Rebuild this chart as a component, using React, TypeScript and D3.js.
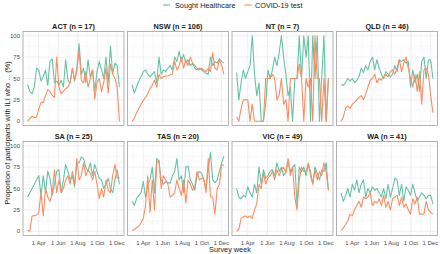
import React from "react";
import * as d3 from "d3";

const regions = ["ACT (n = 17)", "NSW (n = 106)", "NT (n = 7)", "QLD (n = 46)", "SA (n = 25)", "TAS (n = 20)", "VIC (n = 49)", "WA (n = 41)"];
const seriesNames = ["Sought Healthcare", "COVID-19 test"];
const seriesColors = ["#66C2A5", "#FC8D62"];
const yTicks = [0, 25, 50, 75, 100];
const xTickLabels = ["1 Apr", "1 Jun", "1 Aug", "1 Oct", "1 Dec"];
const xTickDates = ["2020-04-01", "2020-06-01", "2020-08-01", "2020-10-01", "2020-12-01"];
const xMinorDates = ["2020-03-01", "2020-05-01", "2020-07-01", "2020-09-01", "2020-11-01"];
const firstWeek = "2020-02-26";

const soughtACT = [43,35,32,40,62,60,47,52,60,42,70,73,45,47,42,48,40,72,48,45,62,47,62,91,55,62,45,72,52,60,35,58,70,60,50,75,45,88,55,68,65,40];
const testACT = [0,3,6,4,5,14,22,22,30,37,35,30,28,75,40,32,35,38,40,45,62,48,58,83,48,45,58,40,50,60,26,45,50,35,45,62,33,67,55,50,40,0];
const soughtNSW = [43,33,40,47,52,58,60,55,52,55,58,45,75,55,60,58,62,65,60,75,70,82,70,78,68,72,65,68,62,60,62,60,58,56,55,75,65,70,68,73,70,68];
const testNSW = [0,3,10,15,20,24,28,32,38,42,48,40,55,50,52,53,53,54,55,70,60,65,75,62,72,65,75,68,65,62,60,62,60,58,62,58,80,62,60,72,65,55];
const soughtNT = [57,25,45,60,50,58,65,100,55,30,45,0,0,20,60,50,60,75,65,80,100,75,55,30,40,0,50,50,100,50,100,75,100,0,100,50,100,0,50,100,0,50];
const testNT = [5,0,15,25,25,25,0,20,0,0,0,0,0,50,50,50,55,50,25,30,50,20,25,0,50,50,50,50,67,50,0,50,40,50,0,100,50,50,0,50,0,50];
const soughtQLD = [43,42,45,50,47,50,45,48,52,62,57,65,60,70,75,60,72,62,55,50,58,55,52,55,65,58,72,70,72,68,70,40,60,45,55,35,70,75,50,72,72,50];
const testQLD = [0,5,15,18,15,20,22,25,28,30,25,32,40,48,50,55,45,50,48,52,55,52,58,60,55,62,72,58,68,75,62,50,40,55,35,58,20,60,62,55,30,10];
const soughtSA = [40,45,50,55,60,65,42,65,45,70,62,42,55,70,72,45,60,78,70,60,65,52,80,80,87,85,75,70,80,65,78,70,62,60,50,55,62,50,45,60,72,55];
const testSA = [1,0,18,18,19,22,45,18,50,40,35,45,72,45,60,45,50,60,65,55,70,55,85,60,65,80,65,72,68,60,70,55,38,50,40,60,48,45,65,78,62,63];
const soughtTAS = [35,30,38,42,45,58,40,55,60,75,45,85,82,60,55,58,57,56,65,70,85,60,65,45,75,76,60,55,48,65,70,68,60,50,72,92,60,57,60,70,80,88];
const testTAS = [1,2,4,6,10,15,30,65,22,60,25,80,83,50,65,60,55,40,42,45,60,50,42,60,33,60,55,48,52,70,60,62,62,45,85,40,40,20,50,55,78,77];
const soughtVIC = [50,40,38,42,40,52,45,40,55,45,75,55,72,62,65,70,72,65,80,70,75,65,70,82,70,75,78,30,75,70,75,65,78,70,55,75,68,60,72,70,80,48];
const testVIC = [0,2,15,17,18,16,18,15,25,32,55,50,68,55,62,65,70,60,72,65,72,75,68,85,65,75,40,25,60,75,70,70,80,65,55,72,60,70,65,80,70,48];
const soughtWA = [45,35,42,50,40,55,48,60,45,55,60,40,50,45,52,48,50,45,40,50,38,55,40,50,62,60,42,55,35,52,48,42,55,45,35,40,45,42,38,42,42,32];
const testWA = [1,4,8,12,20,18,25,30,35,28,40,38,40,45,30,35,33,38,30,42,28,35,25,38,40,42,30,40,28,32,25,20,38,32,40,20,20,20,35,25,22,20];

const soughtAll = [soughtACT, soughtNSW, soughtNT, soughtQLD, soughtSA, soughtTAS, soughtVIC, soughtWA];
const testAll = [testACT, testNSW, testNT, testQLD, testSA, testTAS, testVIC, testWA];

const FONT = "'Liberation Sans', Arial, sans-serif";

export default function App() {
  const W = 440, H = 254;
  const left0 = 23, pw = 101, gap = 3.5;
  const tops = [31.5, 141.5], ph = 94;

  const parse = d3.utcParse("%Y-%m-%d");
  const start = parse(firstWeek) as Date;
  const nWeeks = soughtACT.length;
  const dates = d3.range(nWeeks).map((i) => d3.utcDay.offset(start, i * 7));
  const d0 = +dates[0], d1 = +dates[nWeeks - 1];
  const pad = (d1 - d0) * 0.05;
  const x = d3.scaleUtc().domain([new Date(d0 - pad), new Date(d1 + pad)]).range([0, pw]);
  const y = d3.scaleLinear().domain([-5, 105]).range([ph, 0]);
  const yMinor = [12.5, 37.5, 62.5, 87.5];
  const line = d3.line<number>().x((_, i) => x(dates[i])).y((v) => y(v));

  return (
    <svg width={W} height={H} style={{ display: "block", position: "absolute", left: 0, top: 0 }} fontFamily={FONT}>
      <rect width={W} height={H} fill="#fff" />
      <g>
        <line x1={163} x2={170} y1={5} y2={5} stroke={seriesColors[0]} strokeWidth={1.1} />
        <text x={175} y={7.5} fontSize={7.3} fill="#1a1a1a">{seriesNames[0]}</text>
        <line x1={244.5} x2={251.5} y1={5} y2={5} stroke={seriesColors[1]} strokeWidth={1.1} />
        <text x={255} y={7.5} fontSize={7.3} fill="#1a1a1a">{seriesNames[1]}</text>
      </g>
      {regions.map((name, k) => {
        const col = k % 4, row = Math.floor(k / 4);
        const px = left0 + col * (pw + gap);
        const py = tops[row];
        return (
          <g key={name} transform={`translate(${px},${py})`}>
            <text x={pw / 2} y={-3} textAnchor="middle" fontSize={7.3} fontWeight="bold" fill="#1a1a1a">{name}</text>
            {xMinorDates.map((d) => (
              <line key={d} x1={x(parse(d) as Date)} x2={x(parse(d) as Date)} y1={0} y2={ph} stroke="#f2f2f2" strokeWidth={0.5} />
            ))}
            {yMinor.map((v) => (
              <line key={v} x1={0} x2={pw} y1={y(v)} y2={y(v)} stroke="#f2f2f2" strokeWidth={0.5} />
            ))}
            {xTickDates.map((d) => (
              <line key={d} x1={x(parse(d) as Date)} x2={x(parse(d) as Date)} y1={0} y2={ph} stroke="#e6e6e6" strokeWidth={0.7} />
            ))}
            {yTicks.map((v) => (
              <line key={v} x1={0} x2={pw} y1={y(v)} y2={y(v)} stroke="#e6e6e6" strokeWidth={0.7} />
            ))}
            <path d={line(soughtAll[k]) || ""} fill="none" stroke={seriesColors[0]} strokeWidth={1.1} strokeLinejoin="round" />
            <path d={line(testAll[k]) || ""} fill="none" stroke={seriesColors[1]} strokeWidth={1.1} strokeLinejoin="round" />
            <rect x={0} y={0} width={pw} height={ph} fill="none" stroke="#a0a0a0" strokeWidth={0.8} />
            {col === 0 && yTicks.map((v) => (
              <text key={v} x={-3} y={y(v) + 2.2} textAnchor="end" fontSize={6} fill="#4d4d4d">{v}</text>
            ))}
            {row === 1 && xTickDates.map((d, i) => (
              <text key={d} x={x(parse(d) as Date)} y={ph + 9} textAnchor="middle" fontSize={6} fill="#4d4d4d">{xTickLabels[i]}</text>
            ))}
          </g>
        );
      })}
      <text x={230} y={252} textAnchor="middle" fontSize={7.3} fill="#1a1a1a">Survey week</text>
      <text transform="translate(9.5,133) rotate(-90)" textAnchor="middle" fontSize={7.3} fill="#1a1a1a">
        Proportion of participants with ILI who ... (%)
      </text>
    </svg>
  );
}
